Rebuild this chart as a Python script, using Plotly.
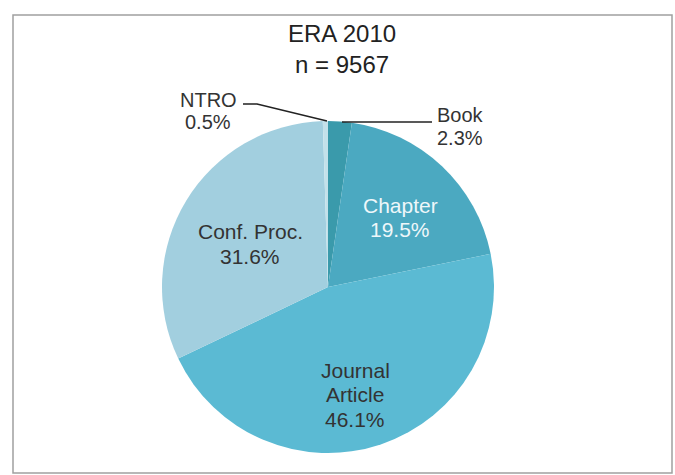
import plotly.graph_objects as go

categories = ["Book", "Chapter", "Journal Article", "Conf. Proc.", "NTRO"]
shares = [2.3, 19.5, 46.1, 31.6, 0.5]
colors = ["#3a9aab", "#4ba9c1", "#5bbad3", "#a2cfdf", "#c3e1ea"]
text_colors = ["#333333", "#eef7fa", "#333333", "#333333", "#333333"]
title_lines = ["ERA 2010", "n = 9567"]

W, H = 675, 475
cx, cy, r = 328, 287, 166
FONT = "Liberation Sans, Arial, sans-serif"

# label placement (pixel centre of first line, line spacing, font size)
label_layout = {
    "Book": (460, 115, 23, 20),
    "Chapter": (400, 205, 24, 21),
    "Journal Article": (355, 370, 24.5, 21),
    "Conf. Proc.": (250, 231, 25, 21),
    "NTRO": (208, 100, 22, 20),
}

fig = go.Figure(go.Pie(
    labels=categories,
    values=shares,
    sort=False,
    direction="clockwise",
    rotation=0,
    marker=dict(colors=colors, line=dict(width=0)),
    textinfo="none",
    domain=dict(x=[(cx - r) / W, (cx + r) / W], y=[1 - (cy + r) / H, 1 - (cy - r) / H]),
    showlegend=False,
    hoverinfo="label+percent",
))

def px(x):
    return x / W

def py(y):
    return 1 - y / H

def add_line(text, x, y, size, color):
    fig.add_annotation(x=px(x), y=py(y), xref="paper", yref="paper",
                       xanchor="center", yanchor="middle",
                       text=text, showarrow=False,
                       font=dict(family=FONT, size=size, color=color))

for c, v, tc in zip(categories, shares, text_colors):
    x, y0, dy, fs = label_layout[c]
    lines = c.split(" ") if c == "Journal Article" else [c]
    lines = lines + [f"{v:.1f}%"]
    for i, t in enumerate(lines):
        add_line(t, x, y0 + i * dy, fs, tc)

# title
for i, t in enumerate(title_lines):
    add_line(t, 342, 33 + i * 31, 24, "#222222")

# leader lines
fig.add_shape(type="path", xref="paper", yref="paper",
              path=f"M {px(243)} {py(104)} L {px(257)} {py(104)} L {px(327)} {py(121)}",
              line=dict(color="#222222", width=1.5))
fig.add_shape(type="line", xref="paper", yref="paper",
              x0=px(342), y0=py(122), x1=px(432), y1=py(122),
              line=dict(color="#222222", width=1.5))

# frame
fig.add_shape(type="rect", xref="paper", yref="paper",
              x0=px(13), y0=py(473), x1=px(672), y1=py(15),
              line=dict(color="#a0a0a0", width=1.5))

fig.update_layout(
    width=W, height=H,
    margin=dict(l=0, r=0, t=0, b=0),
    paper_bgcolor="white",
    plot_bgcolor="white",
)

fig.write_html("out.html", config={"displayModeBar": False},
               post_script="document.body.style.margin='0px';document.body.style.overflow='hidden';")
